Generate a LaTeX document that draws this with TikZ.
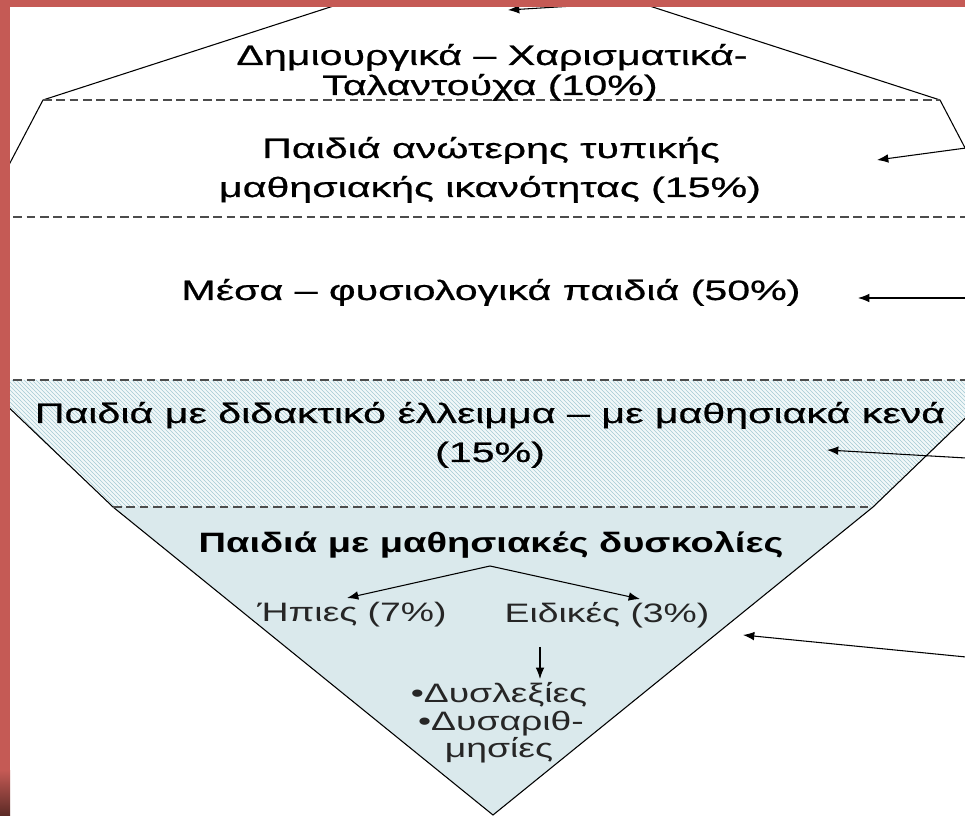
\documentclass[tikz,border=0pt]{standalone}
\usepackage{fontspec}
\setmainfont{Liberation Sans}[FakeStretch=1.4]
\newfontfamily\lblfont{Liberation Sans}[FakeStretch=1.47, FakeBold=0.7]
\newfontfamily\boldlblfont{Liberation Sans}[FakeStretch=1.36]
\usetikzlibrary{patterns,arrows.meta}
\definecolor{slidered}{HTML}{C55A55}
\definecolor{slidedark}{HTML}{5A2A25}
\definecolor{trifill}{HTML}{DAE9EC}
\definecolor{hatchcol}{HTML}{A6CAD4}
\definecolor{hatchbg}{HTML}{F2F8F9}
\tikzset{
  outline/.style={draw=black, line width=0.8pt},
  sepline/.style={draw=black!70, line width=0.8pt, dash pattern=on 6.5pt off 3.5pt},
  arr/.style={draw=black, line width=0.8pt, -{Latex[length=8.5pt,width=6.5pt]}},
  lbl/.style={font=\lblfont\fontsize{21}{24}\selectfont, anchor=base, inner sep=0pt},
  lblb/.style={font=\boldlblfont\fontsize{21}{24}\selectfont\bfseries, anchor=base, inner sep=0pt},
  lblthin/.style={font=\fontsize{20}{23}\selectfont, text=black!85, anchor=base, inner sep=0pt},
}
\begin{document}
\begin{tikzpicture}[x=0.75pt, y=-0.75pt]
\useasboundingbox (0,0) rectangle (965,816);
\fill[white] (0,0) rectangle (965,816);
\begin{scope}
\clip (0,0) rectangle (965,816);
% key points
\coordinate (htl) at (-20,380);
\coordinate (htr) at (1005,380);
\coordinate (tl) at (113,507);
\coordinate (tr) at (873,507);
\coordinate (apex) at (493,815);
% hatched band
\fill[hatchbg] (htl) -- (htr) -- (tr) -- (tl) -- cycle;
\fill[pattern=north west lines, pattern color=hatchcol] (htl) -- (htr) -- (tr) -- (tl) -- cycle;
% lower triangle
\fill[trifill] (tl) -- (tr) -- (apex) -- cycle;
\draw[outline] (htl) -- (tl) -- (apex) -- (tr) -- (htr);
% upper octagon lines
\coordinate (ol) at (43,100);
\coordinate (or) at (940,100);
\draw[outline] (352,0) -- (ol) -- (0,182);
\draw[outline] (631,0) -- (or) -- (975,167);
% separators
\draw[sepline] (ol) -- (or);
\draw[sepline] (0,217) -- (965,217);
\draw[sepline] (0,380) -- (965,380);
\draw[sepline] (tl) -- (tr);
% labels
\node[lbl] (t1a) at (492,65) {Δημιουργικά – Χαρισματικά-};
\node[lbl] (t1b) at (490,95) {Ταλαντούχα (10\%)};
\node[lbl] (t2a) at (491,158) {Παιδιά ανώτερης τυπικής};
\node[lbl] (t2b) at (490,197) {μαθησιακής ικανότητας (15\%)};
\node[lbl] (t3) at (491,300) {Μέσα – φυσιολογικά παιδιά (50\%)};
\node[lbl] (t4a) at (490,423) {Παιδιά με διδακτικό έλλειμμα – με μαθησιακά κενά};
\node[lbl] (t4b) at (490,462) {(15\%)};
\node[lblb] (t5) at (491,553) {Παιδιά με μαθησιακές δυσκολίες};
\node[lblthin] (hp) at (352,622) {Ήπιες (7\%)};
\node[lblthin] (ei) at (607,623) {Ειδικές (3\%)};
\node[lblthin] (b1) at (499,703) {•Δυσλεξίες};
\node[lblthin] (b2) at (501,730) {•Δυσαριθ-};
\node[lblthin] (b3) at (499,757) {μησίες};
% arrows
\coordinate (a0s) at (590,5);   \coordinate (a0e) at (508,10);
\coordinate (a1s) at (966,148); \coordinate (a1e) at (877,160);
\coordinate (a2s) at (966,298); \coordinate (a2e) at (858,298);
\coordinate (a3s) at (966,458); \coordinate (a3e) at (827,450);
\coordinate (a4s) at (966,657); \coordinate (a4e) at (743,635);
\coordinate (split) at (490,566);
\coordinate (hpin) at (347,598);
\coordinate (eiin) at (640,599);
\coordinate (dns) at (540,647);
\coordinate (dne) at (540,679);
\draw[arr] (a0s) -- (a0e);
\draw[arr] (a1s) -- (a1e);
\draw[arr] (a2s) -- (a2e);
\draw[arr] (a3s) -- (a3e);
\draw[arr] (a4s) -- (a4e);
\draw[arr] (split) -- (hpin);
\draw[arr] (split) -- (eiin);
\draw[arr] (dns) -- (dne);
\end{scope}
% slide frame
\fill[slidered] (0,0) rectangle (965,7);
\fill[slidered] (0,0) rectangle (10,816);
\shade[top color=slidered, bottom color=slidedark] (0,770) rectangle (10,816);
\end{tikzpicture}
\end{document}
